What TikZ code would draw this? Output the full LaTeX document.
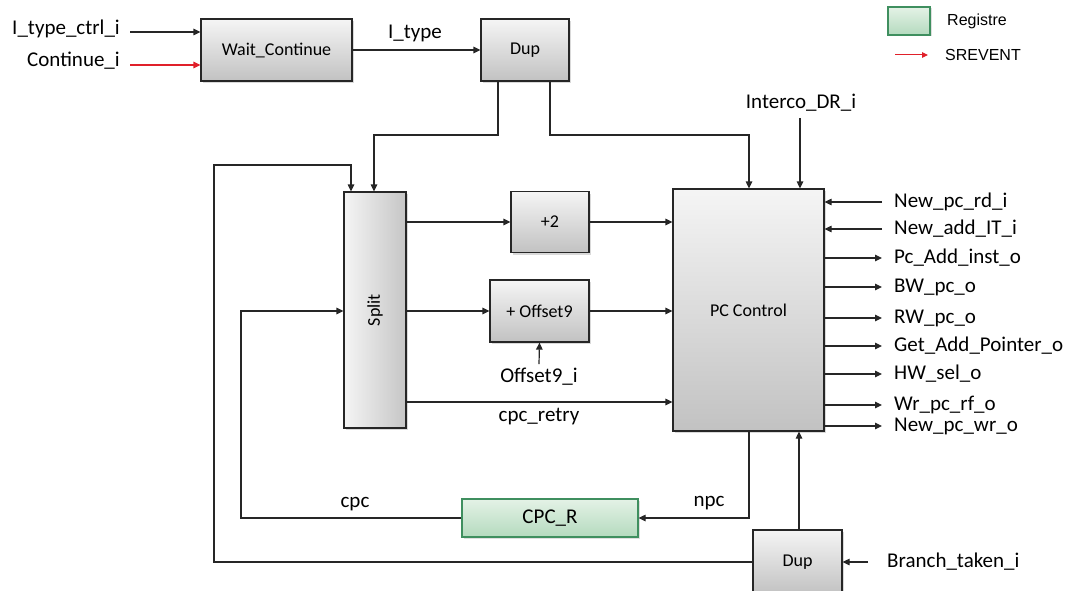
\documentclass[tikz,border=0pt]{standalone}
\usepackage{fontspec}
\setmainfont{Carlito}
\newfontfamily\arialf{Liberation Sans}
\usetikzlibrary{arrows.meta,shadows}
\definecolor{regtop}{HTML}{E4F2E6}
\definecolor{regbot}{HTML}{B4DABE}
\definecolor{regline}{HTML}{3F8F5F}
\definecolor{evred}{HTML}{E0202A}
\definecolor{linec}{HTML}{262626}
\tikzset{
  blk/.style={draw=linec, line width=1.2pt, top color=gray!8, bottom color=gray!48,
    inner sep=0pt, font=\fontsize{18}{21}\selectfont,
    drop shadow={shadow xshift=2pt, shadow yshift=-2pt, opacity=0.3}},
  vblk/.style={draw=linec, line width=1.2pt, left color=gray!8, right color=gray!45,
    inner sep=0pt, font=\fontsize{18}{21}\selectfont,
    drop shadow={shadow xshift=2pt, shadow yshift=-2pt, opacity=0.3}},
  regbox/.style={draw=regline, line width=1.2pt, top color=regtop, bottom color=regbot,
    inner sep=0pt, font=\fontsize{21}{25}\selectfont,
    drop shadow={shadow xshift=1.5pt, shadow yshift=-1.5pt, opacity=0.25}},
  lbl/.style={inner sep=0pt, font=\fontsize{21}{25}\selectfont},
  sig/.style={draw=linec, line width=1.2pt, -{Triangle[length=7pt,width=6.5pt]}},
  wire/.style={draw=linec, line width=1.2pt},
}
\begin{document}
\begin{tikzpicture}[x=1pt,y=-1pt]
\useasboundingbox (0,0) rectangle (1071,591);
% blocks
\node[blk, minimum width=151, minimum height=62] (wc) at (276.5,50) {Wait\_Continue};
\node[blk, minimum width=88, minimum height=62] (dup1) at (525,50) {Dup};
\node[vblk, minimum width=62, minimum height=236] (split) at (375,310) {\rotatebox{90}{Split}};
\node[blk, minimum width=78, minimum height=61] (plus2) at (550,222) {+2};
\node[blk, minimum width=99, minimum height=62] (off9) at (539.5,311) {+ Offset9};
\node[blk, minimum width=151, minimum height=242] (pc) at (748.5,310) {PC Control};
\node[regbox, minimum width=176, minimum height=38] (cpcr) at (550,518) {CPC\_R};
\node[blk, minimum width=89, minimum height=64] (dup2) at (797.5,562) {Dup};
% legend
\node[regbox, minimum width=42, minimum height=28] (leg) at (909,21) {};
\node[lbl, anchor=west, font=\arialf\fontsize{16}{19}\selectfont] (legt) at (947,21) {Registre};
\node[lbl, anchor=west, font=\arialf\fontsize{16}{19}\selectfont] (evt) at (945,55) {SREVENT};
\coordinate (evs) at (895,55);
\draw[sig, draw=evred, -{Triangle[length=6pt,width=5.5pt]}, line width=1pt, evred] (evs) -- ([xshift=-17pt]evt.west);
% top inputs
\node[lbl, anchor=east] (itc) at (120,29) {I\_type\_ctrl\_i};
\node[lbl, anchor=east] (cont) at (120,61) {Continue\_i};
\draw[sig] ([xshift=10pt,yshift=-3pt]itc.east) -- (wc.west |- 0,32);
\draw[sig, draw=evred, evred] ([xshift=10pt,yshift=-4pt]cont.east) -- (wc.west |- 0,65);
\draw[sig] (wc.east) -- (dup1.west);
\node[lbl] (ityp) at (415,33) {I\_type};
% Dup1 outputs
\draw[sig] (dup1.south -| 498,0) -- (498,135) -| (split.north -| 374,0);
\draw[sig] (dup1.south -| 550,0) -- (550,135) -| (pc.north -| 749,0);
% Interco
\node[lbl] (inter) at (801,103) {Interco\_DR\_i};
\draw[sig] ([yshift=-6pt]inter.south -| 800,0) -- (pc.north -| 800,0);
% split outputs
\draw[sig] (split.east |- plus2) -- (plus2.west);
\draw[sig] (plus2.east) -- (pc.west |- plus2);
\draw[sig] (split.east |- off9) -- (off9.west);
\draw[sig] (off9.east) -- (pc.west |- off9);
\node[lbl] (o9i) at (539,377) {Offset9\_i};
\draw[sig] ([yshift=4pt]o9i.north) -- (off9.south);
\draw[sig] (split.east |- 0,402) -- (pc.west |- 0,402);
\node[lbl] (cpcret) at (539,417) {cpc\_retry};
% right side inputs
\foreach \nm/\yy/\txt in {a/202/New\_pc\_rd\_i, b/229/New\_add\_IT\_i}{
  \node[lbl, anchor=west] (r\nm) at (894,\yy) {\txt};
  \draw[sig] ([xshift=-12pt]r\nm.west) -- (pc.east |- r\nm.west);
}
% right side outputs
\foreach \nm/\yy/\txt in {
  c/258/Pc\_Add\_inst\_o, d/287/BW\_pc\_o, e/318/RW\_pc\_o,
  f/346/Get\_Add\_Pointer\_o, g/374/HW\_sel\_o,
  h/405/Wr\_pc\_rf\_o, i/426/New\_pc\_wr\_o}{
  \node[lbl, anchor=west] (r\nm) at (894,\yy) {\txt};
  \draw[sig] (pc.east |- r\nm.west) -- ([xshift=-12pt]r\nm.west);
}
% bottom feedback
\draw[sig] (pc.south -| 749,0) |- (cpcr.east);
\node[lbl] (npc) at (709,503) {npc};
\draw[sig] (cpcr.west) -| (241,311) -- (split.west |- off9);
\node[lbl] (cpc) at (355,504) {cpc};
\draw[sig] (dup2.north -| 799,0) -- (pc.south -| 799,0);
\draw[sig] (dup2.west) -- (214,562) -- (214,165) -| (split.north -| 351,0);
\node[lbl, anchor=west] (bt) at (887,562) {Branch\_taken\_i};
\draw[sig] ([xshift=-19pt]bt.west) -- (dup2.east);
\end{tikzpicture}
\end{document}
